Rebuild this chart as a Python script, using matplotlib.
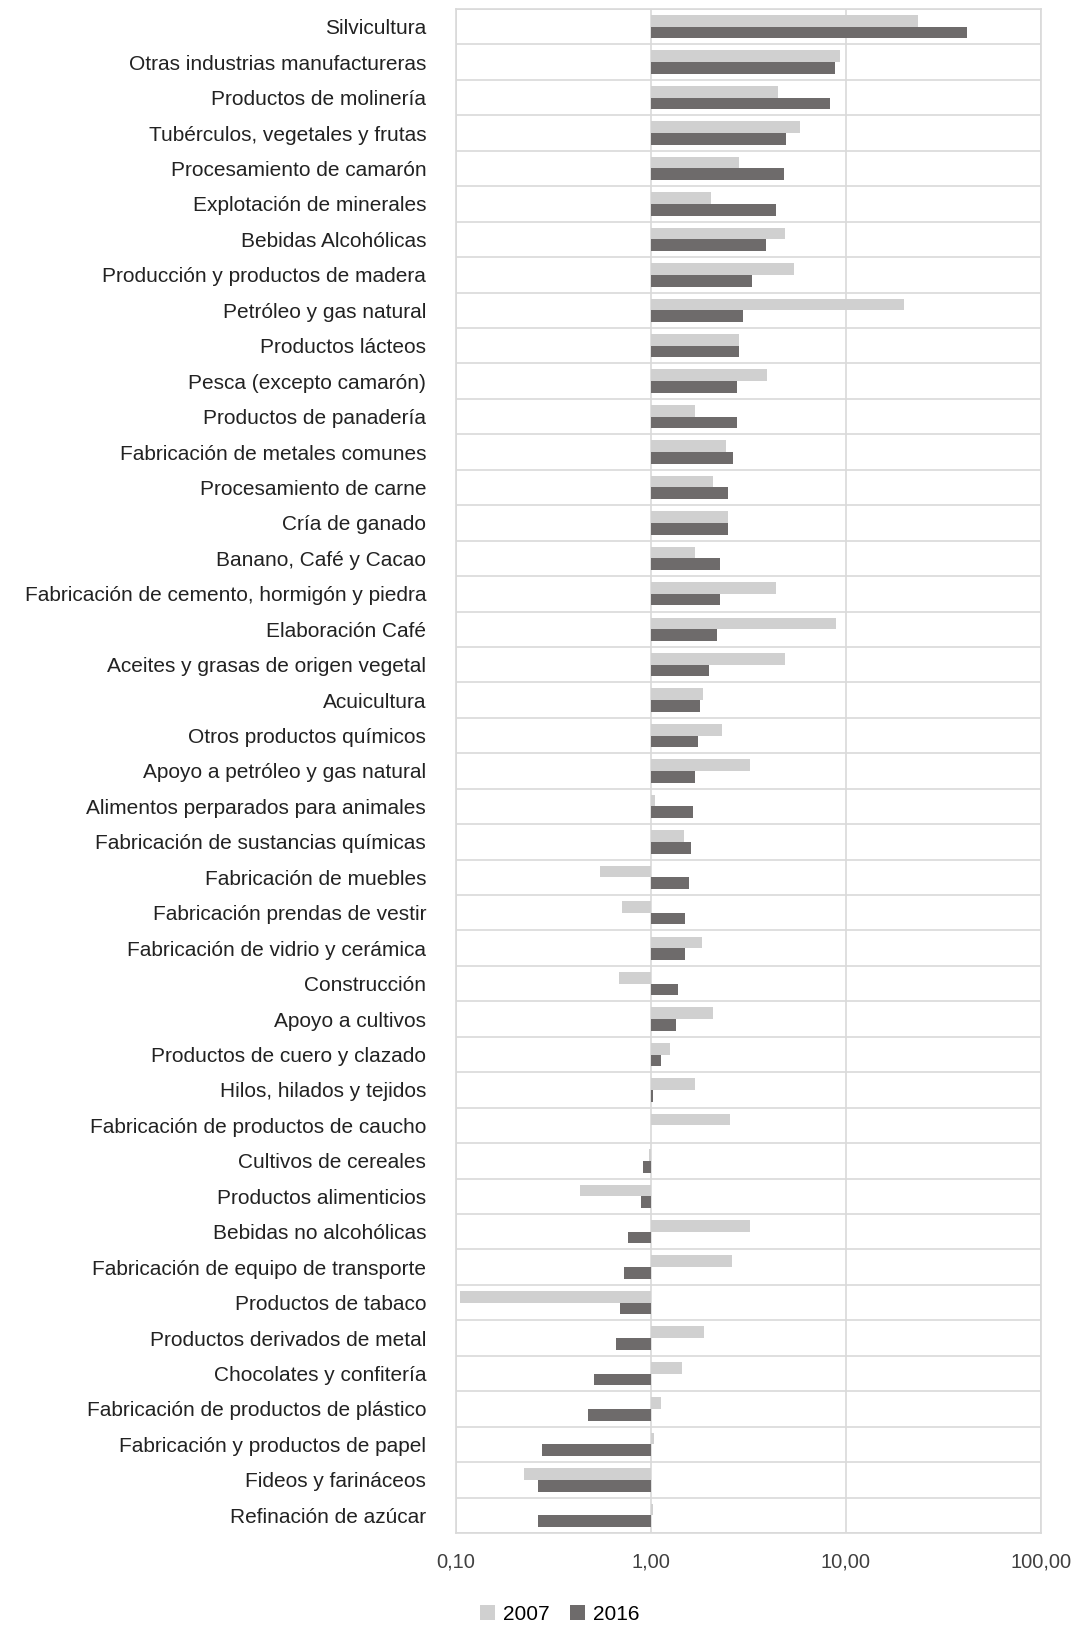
import matplotlib
matplotlib.use("Agg")
import matplotlib.pyplot as plt
from matplotlib.ticker import FixedLocator, NullLocator
import numpy as np

plt.rcParams['font.family'] = ['Liberation Sans', 'DejaVu Sans']

categories = ["Silvicultura","Otras industrias manufactureras","Productos de molinería","Tubérculos, vegetales y frutas",
"Procesamiento de camarón","Explotación de minerales","Bebidas Alcohólicas","Producción y productos de madera",
"Petróleo y gas natural","Productos lácteos","Pesca (excepto camarón)","Productos de panadería",
"Fabricación de metales comunes","Procesamiento de carne","Cría de ganado","Banano, Café y Cacao",
"Fabricación de cemento, hormigón y piedra","Elaboración Café","Aceites y grasas de origen vegetal","Acuicultura",
"Otros productos químicos","Apoyo a petróleo y gas natural","Alimentos perparados para animales","Fabricación de sustancias químicas",
"Fabricación de muebles","Fabricación prendas de vestir","Fabricación de vidrio y cerámica","Construcción",
"Apoyo a cultivos","Productos de cuero y clazado","Hilos, hilados y tejidos","Fabricación de productos de caucho",
"Cultivos de cereales","Productos alimenticios","Bebidas no alcohólicas","Fabricación de equipo de transporte",
"Productos de tabaco","Productos derivados de metal","Chocolates y confitería","Fabricación de productos de plástico",
"Fabricación y productos de papel","Fideos y farináceos","Refinación de azúcar"]
v2007 = [23.4,9.3,4.47,5.78,2.84,2.04,4.87,5.43,19.9,2.84,3.95,1.69,2.42,2.09,2.48,1.69,4.36,8.88,4.87,1.85,
         2.30,3.21,1.05,1.48,0.548,0.71,1.82,0.684,2.09,1.25,1.69,2.54,0.98,0.434,3.21,2.60,0.105,1.87,1.44,1.12,
         1.04,0.224,1.02]
v2016 = [41.7,8.8,8.25,4.93,4.81,4.36,3.90,3.29,2.98,2.84,2.77,2.77,2.64,2.48,2.48,2.25,2.25,2.19,1.99,1.78,
         1.74,1.69,1.65,1.61,1.57,1.50,1.50,1.38,1.34,1.12,1.02,1.0,0.906,0.885,0.763,0.727,0.692,0.659,0.509,0.473,
         0.276,0.263,0.263]
ticks = [0.1,1,10,100]
tick_labels = ["0,10","1,00","10,00","100,00"]

W,H = 1080,1628
fig = plt.figure(figsize=(W/100,H/100),dpi=100)
ax = fig.add_axes([456/W,1-1533/H,(1041-456)/W,(1533-9)/H])
n = len(categories)
y = np.arange(n)
h = 0.33
a = np.array(v2007); b = np.array(v2016)
ax.barh(y-h/2, a-1, left=1, height=h, color="#d0d0d0", label="2007", zorder=3)
ax.barh(y+h/2, b-1, left=1, height=h, color="#6e6b6b", label="2016", zorder=3)
ax.set_xscale("log")
ax.set_xlim(0.1,100)
ax.set_ylim(n-0.5,-0.5)
ax.xaxis.set_major_locator(FixedLocator(ticks))
ax.xaxis.set_minor_locator(NullLocator())
ax.set_xticklabels(tick_labels)
ax.set_yticks(y)
ax.set_yticklabels(categories)
ax.yaxis.set_ticks_position("none")
ax.tick_params(axis="x", length=0, pad=14, labelsize=14.5, colors="#404040")
ax.tick_params(axis="y", labelsize=15, colors="#222222", pad=18)
for yy in np.arange(-0.5,n,1):
    ax.axhline(yy,color="#d9d9d9",lw=1.2,zorder=1)
for xx in ticks:
    ax.axvline(xx,color="#d9d9d9",lw=1.2,zorder=1)
for s in ax.spines.values():
    s.set_color("#d9d9d9"); s.set_linewidth(1.2)
ax.legend(loc="center", bbox_to_anchor=((560-456)/(1041-456),-(1614-1533)/(1533-9)), ncol=2, frameon=False, fontsize=15,
          handlelength=0.7, handleheight=0.7, columnspacing=1.0, handletextpad=0.4)
fig.savefig("out.png",dpi=100,facecolor="white")
